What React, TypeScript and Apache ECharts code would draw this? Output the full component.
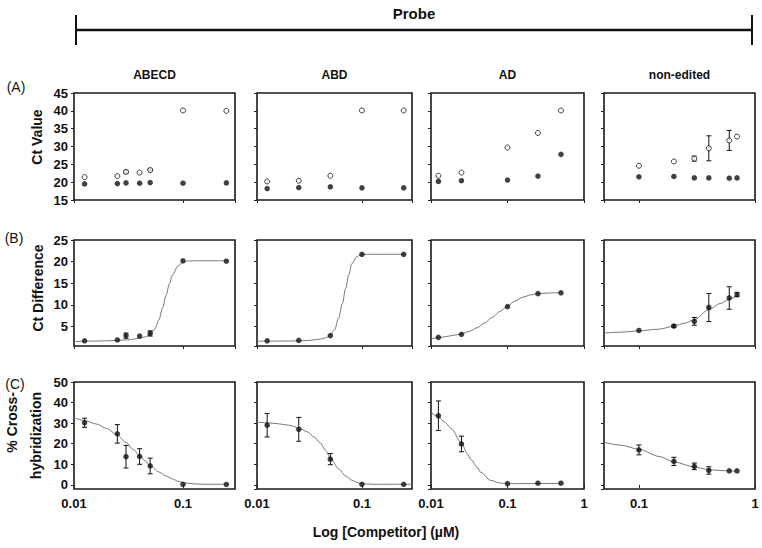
import React, { useEffect, useRef } from "react";
import * as echarts from "echarts";

const FONT = "'Liberation Sans', Arial, Helvetica, sans-serif";

// ---------- texts ----------
const topTitle = "Probe";
const probes = ["ABECD", "ABD", "AD", "non-edited"];
const rowLabels = ["(A)", "(B)", "(C)"];
const xTitle = "Log [Competitor] (µM)";

// ---------- competitor concentrations (µM) ----------
const xABECD = [0.0125, 0.025, 0.03, 0.04, 0.05, 0.1, 0.25];
const xABD = [0.0125, 0.025, 0.05, 0.1, 0.25];
const xAD = [0.0125, 0.025, 0.1, 0.25, 0.5];
const xNon = [0.1, 0.2, 0.3, 0.4, 0.6, 0.7];

// ---------- Row A: Ct values ----------
const ctOpenABECD = [21.4, 21.7, 22.9, 22.7, 23.4, 40.1, 40.0];
const ctOpenErrABECD = [0, 0, 0.4, 0, 0.3, 0, 0];
const ctFillABECD = [19.5, 19.6, 19.8, 19.7, 19.9, 19.7, 19.8];

const ctOpenABD = [20.2, 20.4, 21.8, 40.1, 40.1];
const ctOpenErrABD = [0, 0, 0, 0, 0];
const ctFillABD = [18.2, 18.5, 18.7, 18.4, 18.4];

const ctOpenAD = [21.8, 22.7, 29.7, 33.8, 40.1];
const ctOpenErrAD = [0, 0, 0, 0, 0];
const ctFillAD = [20.2, 20.4, 20.6, 21.7, 27.8];

const ctOpenNon = [24.6, 25.8, 26.6, 29.5, 31.7, 32.8];
const ctOpenErrNon = [0, 0, 0.7, 3.5, 2.8, 0];
const ctFillNon = [21.5, 21.6, 21.2, 21.2, 21.1, 21.2];

// ---------- Row B: Ct difference ----------
const diffABECD = [1.7, 1.9, 2.9, 2.8, 3.4, 20.2, 20.1];
const diffErrABECD = [0, 0, 0.6, 0, 0.6, 0, 0];
const diffFitABECD = [[0.01, 1.5], [0.0125, 1.6], [0.016, 1.65], [0.02, 1.7], [0.025, 1.8], [0.032, 1.95], [0.04, 2.3], [0.045, 2.6], [0.05, 3.2], [0.055, 4.4], [0.06, 6.5], [0.065, 9.3], [0.07, 12.3], [0.075, 14.9], [0.08, 16.9], [0.09, 19.0], [0.1, 19.9], [0.11, 20.15], [0.125, 20.2], [0.25, 20.2]];

const diffABD = [1.7, 1.8, 2.9, 21.7, 21.7];
const diffErrABD = [0, 0, 0, 0, 0];
const diffFitABD = [[0.01, 1.6], [0.0125, 1.62], [0.016, 1.64], [0.02, 1.65], [0.025, 1.7], [0.032, 1.8], [0.04, 2.1], [0.045, 2.4], [0.05, 2.9], [0.055, 4.3], [0.06, 7.0], [0.065, 10.3], [0.07, 13.8], [0.075, 17.0], [0.08, 19.5], [0.09, 21.2], [0.1, 21.7], [0.25, 21.7]];

const diffAD = [2.5, 3.2, 9.6, 12.6, 12.8];
const diffErrAD = [0, 0, 0, 0, 0];
const diffFitAD = [[0.01, 2.2], [0.0125, 2.4], [0.016, 2.7], [0.02, 3.0], [0.025, 3.3], [0.032, 3.9], [0.04, 4.7], [0.05, 5.8], [0.063, 7.1], [0.08, 8.5], [0.1, 9.7], [0.125, 10.9], [0.16, 11.8], [0.2, 12.3], [0.25, 12.6], [0.32, 12.7], [0.4, 12.8], [0.5, 12.8]];

const diffNon = [4.1, 5.1, 6.2, 9.4, 11.6, 12.4];
const diffErrNon = [0, 0.3, 0.9, 3.25, 2.6, 0.5];
const diffFitNon = [[0.05, 3.5], [0.07, 3.7], [0.1, 4.0], [0.15, 4.4], [0.2, 5.1], [0.25, 5.8], [0.3, 6.6], [0.4, 8.9], [0.5, 10.3], [0.6, 11.3], [0.7, 12.2]];

// ---------- Row C: % cross-hybridization ----------
const crossABECD = [30.2, 24.8, 13.7, 13.8, 9.2, 0.3, 0.2];
const crossErrABECD = [2.2, 4.5, 5.5, 3.8, 3.8, 0, 0];
const crossFitABECD = [[0.01, 32.6], [0.0125, 31.3], [0.016, 29.6], [0.02, 27.4], [0.025, 24.2], [0.03, 20.6], [0.035, 17.2], [0.04, 14.2], [0.045, 11.6], [0.05, 9.4], [0.06, 6.3], [0.07, 4.3], [0.08, 2.9], [0.09, 1.8], [0.1, 1.1], [0.125, 0.5], [0.16, 0.3], [0.25, 0.3]];

const crossABD = [29.0, 27.0, 12.5, 0.3, 0.3];
const crossErrABD = [5.7, 5.8, 2.7, 0, 0];
const crossFitABD = [[0.01, 30.5], [0.0125, 30.2], [0.016, 29.7], [0.02, 29.0], [0.025, 27.8], [0.03, 25.8], [0.035, 23.3], [0.04, 20.5], [0.045, 16.8], [0.05, 13.0], [0.06, 7.8], [0.07, 4.3], [0.08, 2.3], [0.09, 1.2], [0.1, 0.6], [0.125, 0.3], [0.3, 0.3]];

const crossAD = [33.6, 19.9, 0.6, 0.8, 0.8];
const crossErrAD = [7.2, 3.8, 0, 0, 0];
const crossFitAD = [[0.01, 35.2], [0.0125, 33.2], [0.015, 30.5], [0.0185, 27.3], [0.025, 20.3], [0.03, 15.0], [0.0335, 12.2], [0.04, 8.6], [0.045, 6.0], [0.06, 2.2], [0.08, 0.9], [0.1, 0.6], [0.5, 0.7]];

const crossNon = [17.0, 11.4, 9.0, 7.0, 6.8, 6.8];
const crossErrNon = [2.4, 2.0, 1.6, 1.8, 0, 0];
const crossFitNon = [[0.05, 20.7], [0.07, 19.3], [0.1, 17.3], [0.15, 13.8], [0.2, 11.2], [0.3, 8.7], [0.4, 7.4], [0.5, 7.0], [0.6, 6.8], [0.7, 6.7]];

// ---------- axes ----------
const xRanges = [[0.01, 0.3], [0.01, 0.3], [0.01, 1], [0.05, 1]];
const yRanges = [[15, 45], [0.5, 25], [-2, 50]];
const yStep = [5, 5, 10];

// ---------- layout ----------
const panelLeft = [74, 257, 431, 604];
const panelWidth = [161, 155, 153, 151];
const panelTop = [93, 240, 382];
const panelHeight = [107, 106, 107];

const columns = [
  { x: xABECD, A: [ctOpenABECD, ctOpenErrABECD, ctFillABECD], B: [diffABECD, diffErrABECD, diffFitABECD], C: [crossABECD, crossErrABECD, crossFitABECD] },
  { x: xABD, A: [ctOpenABD, ctOpenErrABD, ctFillABD], B: [diffABD, diffErrABD, diffFitABD], C: [crossABD, crossErrABD, crossFitABD] },
  { x: xAD, A: [ctOpenAD, ctOpenErrAD, ctFillAD], B: [diffAD, diffErrAD, diffFitAD], C: [crossAD, crossErrAD, crossFitAD] },
  { x: xNon, A: [ctOpenNon, ctOpenErrNon, ctFillNon], B: [diffNon, diffErrNon, diffFitNon], C: [crossNon, crossErrNon, crossFitNon] },
];

function errorBarSeries(idx: number, xs: number[], vals: number[], errs: number[]) {
  const data = xs
    .map((x, i) => [x, vals[i] - errs[i], vals[i] + errs[i], errs[i]])
    .filter((d) => d[3] > 0)
    .map((d) => [d[0], d[1], d[2]]);
  return {
    type: "custom",
    xAxisIndex: idx,
    yAxisIndex: idx,
    z: 3,
    encode: { x: 0, y: [1, 2] },
    data,
    renderItem: (params: any, api: any) => {
      const x = api.value(0);
      const lo = api.coord([x, api.value(1)]);
      const hi = api.coord([x, api.value(2)]);
      const w = 2.5;
      const st = { stroke: "#111", lineWidth: 1 };
      return {
        type: "group",
        children: [
          { type: "line", shape: { x1: lo[0], y1: lo[1], x2: hi[0], y2: hi[1] }, style: st },
          { type: "line", shape: { x1: lo[0] - w, y1: lo[1], x2: lo[0] + w, y2: lo[1] }, style: st },
          { type: "line", shape: { x1: hi[0] - w, y1: hi[1], x2: hi[0] + w, y2: hi[1] }, style: st },
        ],
      };
    },
  };
}

function buildOption() {
  const grid: any[] = [];
  const xAxis: any[] = [];
  const yAxis: any[] = [];
  const series: any[] = [];

  for (let r = 0; r < 3; r++) {
    for (let c = 0; c < 4; c++) {
      const idx = r * 4 + c;
      grid.push({
        left: panelLeft[c],
        top: panelTop[r],
        width: panelWidth[c],
        height: panelHeight[r],
        show: true,
        borderColor: "#1a1a1a",
        borderWidth: 1.6,
        backgroundColor: "transparent",
        containLabel: false,
      });
      const step = yStep[r];
      xAxis.push({
        type: "log",
        logBase: 10,
        gridIndex: idx,
        min: xRanges[c][0],
        max: xRanges[c][1],
        axisLine: { show: false },
        axisTick: { show: true, inside: false, length: 3, lineStyle: { color: "#222", width: 1 } },
        minorTick: { show: false },
        splitLine: { show: false },
        axisLabel: {
          show: r === 2,
          margin: 8,
          color: "#111",
          fontFamily: FONT,
          fontWeight: "bold",
          fontSize: 13,
          showMinLabel: c !== 3,
          showMaxLabel: c === 2 || c === 3,
          formatter: (v: number) => String(parseFloat(Number(v).toPrecision(2))),
        },
      });
      yAxis.push({
        type: "value",
        gridIndex: idx,
        min: yRanges[r][0],
        max: yRanges[r][1],
        splitNumber: 5,
        ...(r === 0 ? { interval: 5 } : {}),
        axisLine: { show: false },
        axisTick: { show: true, inside: false, length: 3, lineStyle: { color: "#222", width: 1 } },
        splitLine: { show: false },
        axisLabel: {
          show: c === 0,
          margin: 6,
          color: "#111",
          fontFamily: FONT,
          fontWeight: "bold",
          fontSize: 13,
          showMinLabel: r === 0,
          formatter: (v: number) => (Math.abs(v / step - Math.round(v / step)) < 1e-6 ? String(Math.round(v)) : ""),
        },
      });

      const col = columns[c];
      const xs = col.x;
      if (r === 0) {
        const [open, openErr, fill] = col.A as [number[], number[], number[]];
        series.push(errorBarSeries(idx, xs, open, openErr));
        series.push({
          type: "scatter",
          xAxisIndex: idx,
          yAxisIndex: idx,
          symbol: "circle",
          symbolSize: 5,
          z: 4,
          itemStyle: { color: "#fff", borderColor: "#111", borderWidth: 1 },
          data: xs.map((x, i) => [x, open[i]]),
        });
        series.push({
          type: "scatter",
          xAxisIndex: idx,
          yAxisIndex: idx,
          symbol: "circle",
          symbolSize: 5.5,
          z: 4,
          itemStyle: { color: "#111" },
          data: xs.map((x, i) => [x, fill[i]]),
        });
      } else {
        const [vals, errs, fit] = (r === 1 ? col.B : col.C) as [number[], number[], number[][]];
        series.push({
          type: "line",
          xAxisIndex: idx,
          yAxisIndex: idx,
          showSymbol: false,
          symbol: "none",
          smooth: 0.3,
          smoothMonotone: "x",
          z: 2,
          lineStyle: { color: "#777", width: 1 },
          data: fit,
        });
        series.push(errorBarSeries(idx, xs, vals, errs));
        series.push({
          type: "scatter",
          xAxisIndex: idx,
          yAxisIndex: idx,
          symbol: "circle",
          symbolSize: 5.5,
          z: 4,
          itemStyle: { color: "#111" },
          data: xs.map((x, i) => [x, vals[i]]),
        });
      }
    }
  }

  const txt = (text: string, x: number, y: number, font: string, extra: any = {}) => ({
    type: "text",
    x,
    y,
    ...extra,
    style: {
      text,
      fill: "#111",
      font,
      textAlign: extra.align || "center",
      align: extra.align || "center",
      textVerticalAlign: "middle",
      verticalAlign: "middle",
    },
  });

  const graphic: any[] = [
    txt(topTitle, 414, 13, `bold 15px ${FONT}`),
    { type: "line", shape: { x1: 76, y1: 30, x2: 752, y2: 30 }, style: { stroke: "#111", lineWidth: 2.5 } },
    { type: "line", shape: { x1: 76, y1: 15, x2: 76, y2: 45 }, style: { stroke: "#111", lineWidth: 2 } },
    { type: "line", shape: { x1: 752, y1: 15, x2: 752, y2: 45 }, style: { stroke: "#111", lineWidth: 2 } },
    ...probes.map((p, c) => txt(p, panelLeft[c] + panelWidth[c] / 2, 75, `bold 12px ${FONT}`)),
    txt(rowLabels[0], 16, 87, `14px ${FONT}`),
    txt(rowLabels[1], 14, 238, `14px ${FONT}`),
    txt(rowLabels[2], 15, 384, `14px ${FONT}`),
    txt("Ct Value", 37, 137, `bold 14px ${FONT}`, { rotation: Math.PI / 2 }),
    txt("Ct Difference", 38, 288, `bold 14px ${FONT}`, { rotation: Math.PI / 2 }),
    txt("% Cross-", 12, 392, `bold 14px ${FONT}`, { rotation: Math.PI / 2, align: "right" }),
    txt("hybridization", 36, 392, `bold 14px ${FONT}`, { rotation: Math.PI / 2, align: "right" }),
    txt(xTitle, 386, 532, `bold 14px ${FONT}`),
  ];

  return {
    animation: false,
    backgroundColor: "#fff",
    grid,
    xAxis,
    yAxis,
    series,
    graphic,
  };
}

export default function App() {
  const ref = useRef<HTMLDivElement>(null);
  useEffect(() => {
    if (!ref.current) return;
    const chart = echarts.init(ref.current, undefined, { renderer: "svg" });
    chart.setOption(buildOption() as any);
    return () => chart.dispose();
  }, []);
  return (
    <div
      ref={ref}
      style={{ position: "fixed", left: 0, top: 0, width: 762, height: 548, background: "#fff" }}
    />
  );
}
